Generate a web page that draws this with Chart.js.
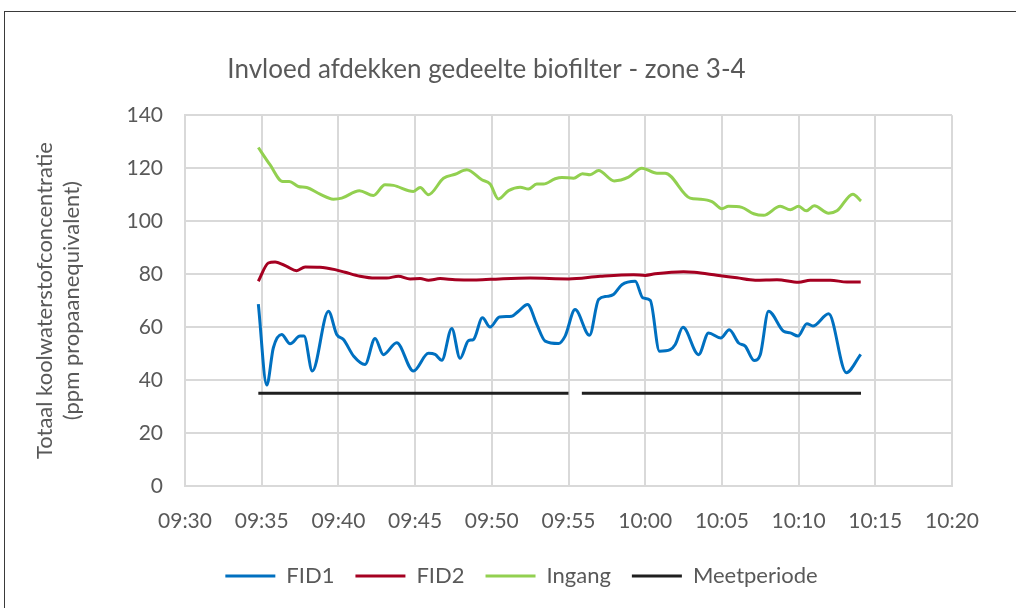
<!DOCTYPE html>
<html>
<head>
<meta charset="utf-8">
<script src="https://cdn.jsdelivr.net/npm/chart.js@4/dist/chart.umd.min.js"></script>
<style>
  body { margin: 0; background: #fff; overflow: hidden; }
  #wrap { position: relative; width: 1016px; height: 608px; }
  #frame { position: absolute; left: 4px; top: 11px; width: 1100px; height: 700px;
           border-left: 1.5px solid #3a3a3a; border-top: 1.5px solid #3a3a3a; }
  canvas { position: absolute; left: 0; top: 0; }
</style>
</head>
<body>
<div id="wrap">
  <div id="frame"></div>
  <canvas id="chart" width="1016" height="608"></canvas>
</div>
<script>
// minutes after 09:30
var fid1Times = [4.78, 5.33, 5.76, 6.30, 6.85, 7.5, 7.76, 8.30, 9.35, 9.89, 10.33, 11.0, 11.74, 12.39, 12.93, 13.8, 14.89, 15.87, 16.3, 16.74, 17.39, 17.93, 18.48, 18.8, 19.39, 19.89, 20.5, 21.3, 21.74, 22.33, 22.93, 23.48, 24.35, 24.78, 25.43, 26.37, 26.96, 27.5, 27.93, 28.48, 29.35, 29.85, 30.33, 30.93, 31.63, 31.96, 32.46, 33.48, 34.13, 34.93, 35.48, 36.09, 36.52, 37.1, 37.5, 38.04, 39.02, 39.46, 39.96, 40.54, 40.93, 41.96, 43.11, 44.05];
var fid1Values = [68.7, 38.1, 52.2, 57.2, 53.7, 56.6, 56.6, 43.4, 66, 57.2, 55.3, 49, 45.9, 55.7, 49.6, 54.1, 43.4, 50.1, 49.7, 47.5, 59.5, 48.2, 54.9, 55.3, 63.5, 60, 63.8, 64.1, 66, 68.5, 61, 54.7, 53.8, 56.6, 66.6, 56.9, 70.4, 71.6, 72.3, 76, 77.3, 71, 70.1, 50.9, 51.5, 53.4, 59.9, 49.6, 57.8, 55.9, 59, 54, 52.8, 47.4, 49.6, 66, 58.4, 57.8, 56.6, 61.3, 60.4, 65, 42.8, 49.7];

var fid2Times = [4.78, 5.43, 5.87, 6.63, 7.28, 7.83, 8.8, 9.78, 10.43, 11.41, 12.39, 13.15, 13.91, 14.67, 15.33, 15.87, 16.63, 17.61, 19.0, 20.5, 22.5, 25.0, 27.07, 29.24, 30.0, 30.65, 32.5, 33.2, 34.67, 35.98, 37.17, 38.59, 40.0, 40.76, 42.07, 43.15, 44.05];
var fid2Values = [77.3, 84.2, 84.6, 82.9, 81.3, 82.7, 82.6, 81.7, 80.7, 79.2, 78.5, 78.5, 79.2, 78.2, 78.3, 77.7, 78.3, 77.9, 77.8, 78.2, 78.5, 78.2, 79.2, 79.8, 79.5, 80.1, 80.9, 80.7, 79.6, 78.6, 77.7, 77.9, 76.9, 77.7, 77.7, 77, 77];

var ingangTimes = [4.78, 5.54, 6.37, 6.8, 7.39, 7.93, 8.8, 9.67, 10.22, 11.37, 12.28, 13.04, 13.59, 14.89, 15.33, 15.87, 16.85, 17.61, 18.37, 19.35, 19.89, 20.43, 21.09, 21.85, 22.39, 22.93, 23.37, 24.13, 24.57, 25.33, 25.91, 26.41, 26.96, 27.98, 28.91, 29.78, 30.76, 31.3, 32.93, 33.59, 34.35, 35.0, 35.43, 36.3, 37.07, 37.72, 38.8, 39.46, 40.0, 40.5, 41.02, 41.96, 42.5, 43.54, 44.07];
var ingangValues = [127.8, 121.3, 115, 115, 113.1, 112.7, 110.2, 108.3, 108.7, 111.5, 109.7, 113.7, 113.5, 111.2, 112.7, 110, 116.2, 117.7, 119.4, 115.6, 114, 108.4, 111.5, 112.8, 112.1, 114, 114, 116, 116.5, 116.2, 117.9, 117.5, 119.1, 115.2, 116.6, 120, 118.1, 118.1, 108.7, 108.3, 107.4, 104.7, 105.6, 105.2, 102.8, 102.2, 105.6, 104.3, 105.6, 103.9, 105.8, 103, 103.9, 110.2, 107.6];

var meetTimes = [4.78, 25.0, 25.4, 25.87, 44.07];
var meetValues = [35, 35, null, 35, 35];

var xTicks = ['09:30', '09:35', '09:40', '09:45', '09:50', '09:55', '10:00', '10:05', '10:10', '10:15', '10:20'];

function pts(t, v) {
  var out = [];
  for (var i = 0; i < t.length; i++) out.push({ x: t[i], y: v[i] });
  return out;
}

var grey = '#595959';
var font = 'Lato, "Liberation Sans", sans-serif';

function line(label, t, v, color, smooth) {
  return {
    label: label,
    data: pts(t, v),
    borderColor: color,
    backgroundColor: color,
    borderWidth: 3,
    pointRadius: 0,
    fill: false,
    spanGaps: false,
    cubicInterpolationMode: smooth ? 'monotone' : 'default',
    tension: 0
  };
}

// legend sits a bit right of the title in the original, title a bit left
var nudge = {
  id: 'nudge',
  afterLayout: function (chart) {
    chart.legend.left += 30;
    chart.legend.right += 30;
    chart.titleBlock.left -= 5;
    chart.titleBlock.right -= 5;
  }
};

var ctx = document.getElementById('chart');
new Chart(ctx, {
  type: 'line',
  data: {
    datasets: [
      line('FID1', fid1Times, fid1Values, '#0070C0', true),
      line('FID2', fid2Times, fid2Values, '#A50021', true),
      line('Ingang', ingangTimes, ingangValues, '#92D050', true),
      line('Meetperiode', meetTimes, meetValues, '#1f1f1f', false)
    ]
  },
  plugins: [nudge],
  options: {
    responsive: false,
    animation: false,
    layout: { padding: { left: 31, right: 64, top: 54, bottom: 11 } },
    plugins: {
      title: {
        display: true,
        text: 'Invloed afdekken gedeelte biofilter - zone 3-4',
        color: grey,
        font: { family: font, size: 26, weight: 'normal', lineHeight: 1.2 },
        padding: { top: 0, bottom: 30 }
      },
      legend: {
        position: 'bottom',
        labels: {
          color: grey,
          font: { family: font, size: 22, lineHeight: 1 },
          usePointStyle: true,
          pointStyle: 'line',
          pointStyleWidth: 50,
          boxHeight: 21,
          padding: 21
        }
      },
      tooltip: { enabled: false }
    },
    scales: {
      x: {
        type: 'linear',
        min: 0,
        max: 50,
        ticks: {
          stepSize: 5,
          color: grey,
          padding: 23,
          maxRotation: 0,
          font: { family: font, size: 21 },
          callback: function (val) { return xTicks[Math.round(val / 5)]; }
        },
        grid: { color: '#d9d9d9', lineWidth: 2, drawTicks: false },
        border: { color: '#d9d9d9', width: 2 },
        afterFit: function (scale) { scale.height = 58; }
      },
      y: {
        min: 0,
        max: 140,
        ticks: {
          stepSize: 20,
          color: grey,
          padding: 22,
          font: { family: font, size: 21 }
        },
        grid: { color: '#d9d9d9', lineWidth: 2, drawTicks: false },
        border: { color: '#d9d9d9', width: 2 },
        title: {
          display: true,
          text: ['Totaal koolwaterstofconcentratie', '(ppm propaanequivalent)'],
          color: grey,
          font: { family: font, size: 22, lineHeight: 1.23 },
          padding: 0
        },
        afterFit: function (scale) { scale.width = 154; }
      }
    }
  }
});
</script>
</body>
</html>
